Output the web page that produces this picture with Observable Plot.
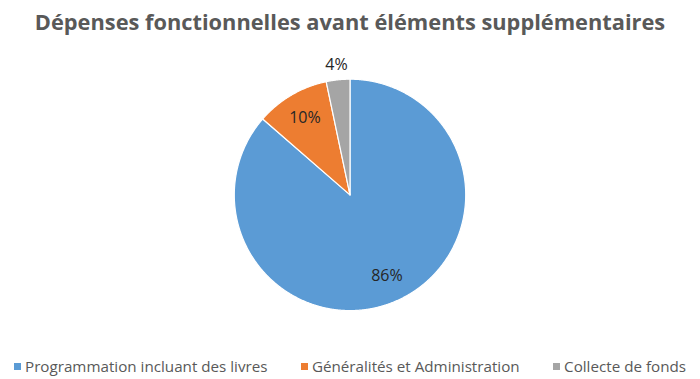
<!DOCTYPE html>
<html><head><meta charset="utf-8">
<script src="https://cdn.jsdelivr.net/npm/d3@7"></script>
<script src="https://cdn.jsdelivr.net/npm/@observablehq/plot@0.6"></script>
<style>
body{margin:0;background:#fff;width:700px;height:379px;overflow:hidden;font-family:"Open Sans",sans-serif;}
#title{height:44px;text-align:center;font-weight:700;font-size:21.8px;color:#595959;line-height:44px;white-space:nowrap;}
#chart{height:300px;}
#legend{display:flex;justify-content:space-between;padding:0 14px;margin-top:7px;font-size:15.2px;color:#595959;height:30px;align-items:center;white-space:nowrap;}
.sw{display:inline-block;width:7px;height:7px;margin-right:4px;vertical-align:middle;position:relative;top:-1px}
</style></head><body>
<div id="title">Dépenses fonctionnelles avant éléments supplémentaires</div>
<div id="chart"></div>
<div id="legend"></div>
<script>
const categories = ["Programmation incluant des livres", "Généralités et Administration", "Collecte de fonds"];
const values = [86.4, 10.3, 3.3];
const labels = ["86%", "10%", "4%"];
const colors = ["#5B9BD5", "#ED7D31", "#A5A5A5"];

const rows = categories.map((c, i) => ({category: c, value: values[i], label: labels[i]}));
const total = d3.sum(values);
const arcs = d3.pie().sort(null).value(d => d.value)(rows);

const pts = [];
arcs.forEach(a => {
  const c = a.data.category;
  pts.push({category: c, x: 0, y: 0});
  const n = Math.max(4, Math.ceil((a.endAngle - a.startAngle) / 0.005));
  for (let k = 0; k <= n; k++) {
    const t = a.startAngle + (a.endAngle - a.startAngle) * k / n;
    pts.push({category: c, x: Math.sin(t), y: Math.cos(t)});
  }
  pts.push({category: c, x: 0, y: 0});
});

const labelPts = arcs.map(a => {
  const mid = (a.startAngle + a.endAngle) / 2;
  const r = a.data.value / total > 0.06 ? 0.77 : 1.126;
  return {x: r * Math.sin(mid), y: r * Math.cos(mid), label: a.data.label};
});

const chart = Plot.plot({
  width: 700,
  height: 300,
  marginTop: 34.7,
  marginBottom: 33.9,
  marginLeft: 233.8,
  marginRight: 234.8,
  x: {domain: [-1, 1], axis: null},
  y: {domain: [-1, 1], axis: null},
  color: {domain: categories, range: colors},
  style: {fontFamily: "Open Sans", overflow: "visible", background: "white"},
  marks: [
    Plot.line(pts, {x: "x", y: "y", z: "category", fill: "category", stroke: "white", strokeWidth: 1.2, strokeLinejoin: "round"}),
    Plot.text(labelPts, {x: "x", y: "y", text: "label", fontSize: 16, fill: "#262626"})
  ]
});
document.getElementById("chart").appendChild(chart);

const legend = document.getElementById("legend");
categories.forEach((c, i) => {
  const item = document.createElement("span");
  const sw = document.createElement("span");
  sw.className = "sw";
  sw.style.background = colors[i];
  item.appendChild(sw);
  item.appendChild(document.createTextNode(c));
  legend.appendChild(item);
});
</script>
</body></html>
